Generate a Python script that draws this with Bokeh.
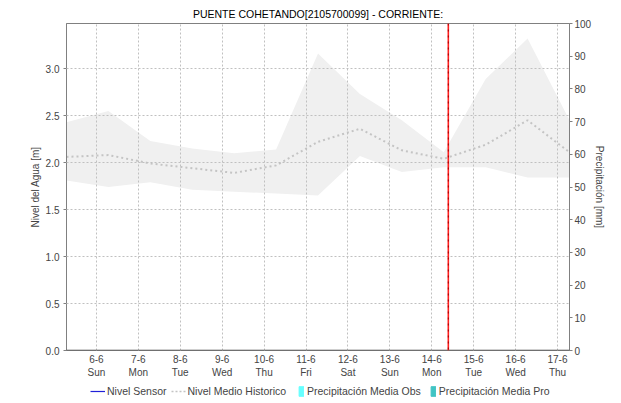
from datetime import datetime, timedelta
from bokeh.plotting import figure
from bokeh.layouts import column
from bokeh.models import (Range1d, LinearAxis, FixedTicker, Span, Legend, LegendItem,
                          ColumnDataSource)
from bokeh.embed import file_html
from bokeh.resources import INLINE

# ---------------- data ----------------
title_text = "PUENTE COHETANDO[2105700099] - CORRIENTE:"
start_time = datetime(2021, 6, 5, 6, 52)
now_time = datetime(2021, 6, 14, 9, 29)
end_time = datetime(2021, 6, 17, 6, 52)

# daily samples of the historical band (Nivel del Agua [m])
sample_days = list(range(13))
hist_max = [2.43, 2.55, 2.23, 2.15, 2.10, 2.14, 3.16, 2.73, 2.45, 2.11, 2.89, 3.32, 2.45]
hist_min = [1.81, 1.74, 1.79, 1.71, 1.69, 1.67, 1.65, 2.07, 1.90, 1.95, 1.95, 1.84, 1.84]
hist_mean = [2.06, 2.08, 1.99, 1.94, 1.89, 1.97, 2.22, 2.36, 2.13, 2.04, 2.19, 2.45, 2.11]

tick_days = [datetime(2021, 6, d) for d in range(6, 18)]
tick_labels = ["6-6\nSun", "7-6\nMon", "8-6\nTue", "9-6\nWed", "10-6\nThu", "11-6\nFri",
               "12-6\nSat", "13-6\nSun", "14-6\nMon", "15-6\nTue", "16-6\nWed", "17-6\nThu"]

level_ticks = [0.0, 0.5, 1.0, 1.5, 2.0, 2.5, 3.0]
precip_ticks = [0, 10, 20, 30, 40, 50, 60, 70, 80, 90, 100]

legend_labels = ["Nivel Sensor", "Nivel Medio Historico",
                 "Precipitación Media Obs", "Precipitación Media Pro"]

# ---------------- styles ----------------
FONT = "Liberation Sans"
SENSOR_COLOR = "#2020d8"
MEAN_COLOR = "#c4c4c4"
OBS_COLOR = "#66ffff"
PRO_COLOR = "#40c4c4"
NAN = float("nan")

times = [start_time + timedelta(days=d) for d in sample_days]
src = ColumnDataSource(dict(t=times, hi=hist_max, lo=hist_min, mean=hist_mean))

p = figure(width=621, height=380, x_axis_type="datetime",
           x_range=Range1d(start_time, end_time), y_range=Range1d(0, 3.48),
           output_backend="svg", toolbar_location=None,
           min_border_left=66, min_border_right=52, min_border_top=23,
           min_border_bottom=30)
p.background_fill_color = "white"
p.border_fill_color = "white"
p.outline_line_color = "#808080"

p.title.text = title_text
p.title.align = "center"
p.title.vertical_align = "top"
p.title.text_font = FONT
p.title.text_font_size = "10.5px"
p.title.text_font_style = "normal"
p.title.text_color = "#000000"
p.title.standoff = 4
p.title.offset = 0

p.extra_y_ranges = {"precip": Range1d(0, 100)}

# band + mean
p.varea(x="t", y1="lo", y2="hi", source=src, fill_color="#f0f0f0")
p.line(x="t", y="mean", source=src, line_color=MEAN_COLOR, line_width=2, line_dash="2 3")

# x axis
xax = p.xaxis[0]
tick_ms = [(d - datetime(1970, 1, 1)).total_seconds() * 1000 for d in tick_days]
xax.ticker = FixedTicker(ticks=tick_ms)
xax.major_label_overrides = {t: lab for t, lab in zip(tick_ms, tick_labels)}
xax.axis_line_color = "#808080"
xax.major_tick_line_color = None
xax.minor_tick_line_color = None
xax.major_tick_out = 0
xax.major_tick_in = 0
xax.minor_tick_out = 0
xax.major_label_text_font = FONT
xax.major_label_text_font_size = "10px"
xax.major_label_standoff = 3

# left axis
yax = p.yaxis[0]
yax.ticker = FixedTicker(ticks=level_ticks)
yax.major_label_overrides = {t: f"{t:.1f}" for t in level_ticks}
yax.axis_label = "Nivel del Agua [m]"
yax.axis_label_text_font = FONT
yax.axis_label_text_font_size = "10px"
yax.axis_label_text_font_style = "normal"
yax.axis_label_standoff = 2
yax.axis_line_color = "#808080"
yax.major_tick_line_color = "#808080"
yax.major_tick_in = 0
yax.major_tick_out = 3
yax.minor_tick_line_color = None
yax.major_label_text_font = FONT
yax.major_label_text_font_size = "10px"
yax.major_label_standoff = 4

# right axis
rax = LinearAxis(y_range_name="precip", ticker=FixedTicker(ticks=precip_ticks),
                 axis_label="Precipitación [mm]")
rax.axis_label_text_font = FONT
rax.axis_label_text_font_size = "10px"
rax.axis_label_text_font_style = "normal"
rax.axis_label_standoff = 0
rax.axis_line_color = "#808080"
rax.major_tick_line_color = "#808080"
rax.major_tick_in = 0
rax.major_tick_out = 3
rax.minor_tick_line_color = None
rax.major_label_text_font = FONT
rax.major_label_text_font_size = "10px"
rax.major_label_standoff = 2
p.add_layout(rax, "right")

# grids
for g in (p.xgrid[0], p.ygrid[0]):
    g.grid_line_color = "#c0c0c0"
    g.grid_line_dash = "2 2"
    g.grid_line_width = 1
    g.level = "overlay"
p.xgrid[0].ticker = xax.ticker
p.ygrid[0].ticker = yax.ticker

# dark dotted baseline (zero precipitation bars)
p.add_layout(Span(location=0, dimension="width", line_color="#404040",
                  line_dash="1 1", line_width=2, level="overlay"))

# now marker
p.add_layout(Span(location=now_time, dimension="height", line_color="#ff2020",
                  line_width=1.6, level="overlay"))
p.add_layout(Span(location=now_time, dimension="height", line_color="#a00000",
                  line_width=1, line_dash="2 4", level="overlay"))

# ---------------- legend strip ----------------
lg = figure(width=621, height=23, output_backend="svg", toolbar_location=None,
            x_range=Range1d(0, 1), y_range=Range1d(0, 1),
            x_axis_location=None, y_axis_location=None,
            min_border_left=0, min_border_right=0, min_border_top=0, min_border_bottom=0)
lg.grid.visible = False
lg.outline_line_color = None
lg.border_fill_color = "white"
lg.background_fill_color = "white"

sensor_r = lg.line(x=[NAN], y=[NAN], line_color=SENSOR_COLOR, line_width=1.2)
mean_leg = lg.line(x=[NAN], y=[NAN], line_color=MEAN_COLOR, line_width=1.5, line_dash="2 2")
obs_r = lg.vbar(x=[NAN], top=[NAN], width=1, fill_color=OBS_COLOR, line_color=OBS_COLOR)
pro_r = lg.vbar(x=[NAN], top=[NAN], width=1, fill_color=PRO_COLOR, line_color=PRO_COLOR)

legend_lines = Legend(items=[LegendItem(label=legend_labels[0], renderers=[sensor_r]),
                             LegendItem(label=legend_labels[1], renderers=[mean_leg])],
                      orientation="horizontal", location=(24, 6),
                      background_fill_alpha=0, border_line_color=None,
                      label_text_font=FONT, label_text_font_size="10.5px",
                      glyph_width=15, glyph_height=12, label_standoff=2, spacing=4,
                      padding=0, margin=0, label_height=12)
legend_boxes = Legend(items=[LegendItem(label=legend_labels[2], renderers=[obs_r]),
                             LegendItem(label=legend_labels[3], renderers=[pro_r])],
                      orientation="horizontal", location=(232, 6),
                      background_fill_alpha=0, border_line_color=None,
                      label_text_font=FONT, label_text_font_size="10.5px",
                      glyph_width=6, glyph_height=12, label_standoff=3, spacing=9,
                      padding=0, margin=0, label_height=12)
lg.add_layout(legend_lines, "center")
lg.add_layout(legend_boxes, "center")

layout = column(p, lg, spacing=0)
open("out.html", "w").write(file_html(layout, INLINE))
